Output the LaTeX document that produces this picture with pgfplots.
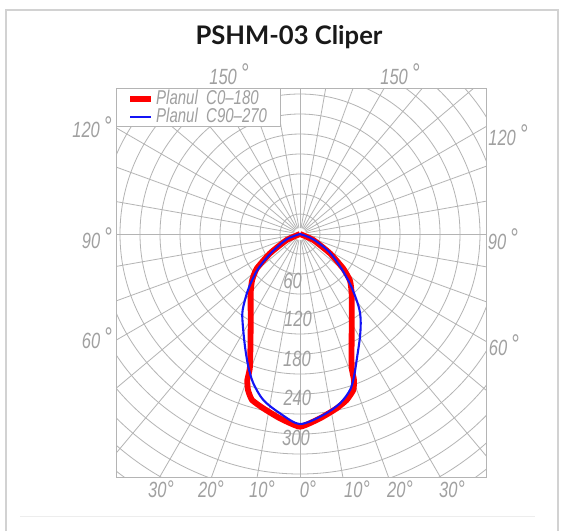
\documentclass[border=0pt]{standalone}
\usepackage{pgfplots}
\pgfplotsset{compat=1.18}
\usepackage{fontspec}
\newfontfamily\cadfont{Liberation Sans}[FakeStretch=0.75]
\newfontfamily\titlefont{Lato}
\definecolor{lbl}{HTML}{A0A0A0}
\definecolor{gridc}{HTML}{B4B4B4}
\definecolor{frm}{HTML}{D2D2D2}
\definecolor{cred}{HTML}{FF0000}
\definecolor{cblue}{HTML}{1414F5}
\newcommand{\lf}{\cadfont\itshape\fontsize{11}{11}\selectfont}
\newcommand{\lfl}{\cadfont\itshape\fontsize{10}{10}\selectfont}
\newcommand{\dg}{\,\raisebox{0.8pt}{\fontsize{13.5}{13.5}\selectfont °}}
\newcommand{\dgb}{{\fontsize{12}{12}\selectfont °}}
\begin{document}
\begin{tikzpicture}
\useasboundingbox (0,0) rectangle (283.5pt,265.5pt);
\fill[white] (0,0) rectangle (283.5pt,265.5pt);
\begin{axis}[
  at={(58pt,27pt)}, anchor=south west,
  x=0.33333pt, y=0.33333pt,
  xmin=-276, xmax=279, ymin=-364.5, ymax=219,
  xtick=\empty, ytick=\empty,
  axis line style={gridc, line width=0.5pt},
  clip=true,
  legend cell align=left,
  legend style={at={(0,1)}, anchor=north west, draw=gridc, fill=white,
    inner xsep=5.5pt, inner ysep=0.6pt, font=\lfl, text=lbl, row sep=0pt,
    nodes={inner xsep=1pt, inner ysep=0pt, text height=7.6pt, text depth=1.4pt}},
  legend image code/.code={\draw[#1] (0pt,0pt) -- (10.5pt,0pt);},
]
\pgfplotsinvokeforeach{30,60,...,450}{
  \draw[gridc, line width=0.4pt] (axis cs:0,0) circle[radius={#1*0.33333pt}];
}
\pgfplotsinvokeforeach{0,10,...,350}{
  \draw[gridc, line width=0.4pt] (axis cs:0,0) ++(#1:3pt) -- ++(#1:200pt);
}
\node[font=\lf, text=lbl] at (axis cs:-11,-70.5) {60};
\node[font=\lf, text=lbl] at (axis cs:-3,-126.75) {120};
\node[font=\lf, text=lbl] at (axis cs:-4.5,-186.75) {180};
\node[font=\lf, text=lbl] at (axis cs:-4,-245.25) {240};
\node[font=\lf, text=lbl] at (axis cs:-6,-305.25) {300};

\addplot[cred, line width=2.9pt, line join=round, smooth, tension=0.3] coordinates {
 (0,0) (20,-9) (45,-29) (65,-52) (75,-70) (77.5,-90) (77.5,-140) (77.5,-199)
 (81,-219) (80,-234) (70,-249) (55,-261.5) (30,-276.5) (0,-289)
 (-30,-276.5) (-55,-261.5) (-72,-249) (-78,-234) (-79,-219) (-75,-199)
 (-74,-140) (-74,-90) (-72,-70) (-65,-52) (-45,-29) (-20,-9) (0,0)
};
\addlegendentry{Planul\ \ C0–180}
\addplot[cblue, line width=1.05pt, line join=round, smooth, tension=0.5] coordinates {
 (0,0) (20,-8) (44,-27) (62,-51.5) (77,-79) (88,-109) (91,-129) (90,-154)
 (85,-189) (81,-214) (75,-234) (60,-254) (35,-271.5) (0,-285)
 (-30,-269) (-55,-249) (-70,-224) (-77.5,-199) (-82.5,-169) (-86,-134)
 (-86,-114) (-78,-84) (-64,-54) (-44,-29) (-20,-8) (0,0)
};
\addlegendentry{Planul\ \ C90–270}
\end{axis}
\begin{scope}[x=0.5pt, y=-0.5pt, shift={(0pt,265.5pt)}]
\draw[frm, line width=0.75pt] (6,531) -- (6,10) -- (558,10) -- (558,531);
\draw[black!7, line width=0.5pt] (20,516) -- (535,516);
\node[anchor=base, text=black!90, font=\titlefont\bfseries\fontsize{12.8}{14}\selectfont] at (289,45) {PSHM-03 Cliper};
\begin{scope}[every node/.style={font=\lf, text=lbl, inner sep=1pt}]
\node at (229,74) {150\dg};
\node at (400,74) {150\dg};
\node at (92,127) {120\dg};
\node at (508,135) {120\dg};
\node at (97,238) {90\dg};
\node at (503,239) {90\dg};
\node at (97,338) {60\dg};
\node at (504,345) {60\dg};
\node at (161,489) {30\dgb};
\node at (211,489) {20\dgb};
\node at (262,489) {10\dgb};
\node at (308,489) {0\dgb};
\node at (357,489) {10\dgb};
\node at (400,489) {20\dgb};
\node at (452,489) {30\dgb};
\end{scope}
\end{scope}
\end{tikzpicture}
\end{document}
